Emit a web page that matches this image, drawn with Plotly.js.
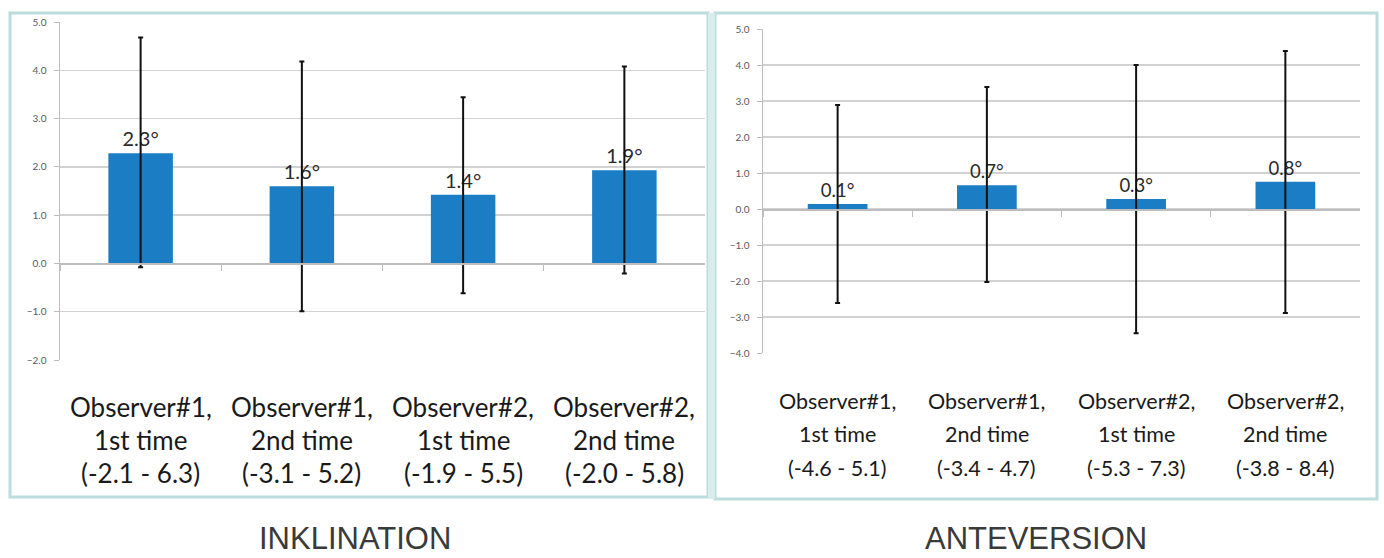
<!DOCTYPE html>
<html>
<head>
<meta charset="utf-8">
<script src="https://cdn.plot.ly/plotly-3.0.1.min.js"></script>
<style>html,body{margin:0;padding:0;background:#fff;}#chart{width:1384px;height:558px;}</style>
</head>
<body>
<div id="chart"></div>
<script>
// ---- data ----
const categories = ["Observer#1, 1st time", "Observer#1, 2nd time", "Observer#2, 1st time", "Observer#2, 2nd time"];
const labelNames = ["Observer#1,", "Observer#1,", "Observer#2,", "Observer#2,"];
const labelTimes = ["1st time", "2nd time", "1st time", "2nd time"];

// INKLINATION
const inkMean = [2.28, 1.6, 1.42, 1.93];
const inkUpper = [4.68, 4.18, 3.44, 4.08];
const inkLower = [-0.08, -0.99, -0.62, -0.21];
const inkRanges = ["(-2.1 - 6.3)", "(-3.1 - 5.2)", "(-1.9 - 5.5)", "(-2.0 - 5.8)"];

// ANTEVERSION
const antMean = [0.14, 0.66, 0.28, 0.76];
const antUpper = [2.89, 3.39, 4.0, 4.39];
const antLower = [-2.61, -2.03, -3.45, -2.89];
const antRanges = ["(-4.6 - 5.1)", "(-3.4 - 4.7)", "(-5.3 - 7.3)", "(-3.8 - 8.4)"];

const panelTitles = ["INKLINATION", "ANTEVERSION"];

// ---- build ----
const W = 1384, H = 558;
const BAR = '#1b7dc3';
const GRID = '#d2d2d2';
const AXIS = '#bdbdbd';
const FONT = 'Lato, "Open Sans", sans-serif';

function barTrace(mean, up, low, xa, ya, fsize) {
  return {
    type: 'bar', x: categories, y: mean, xaxis: xa, yaxis: ya,
    width: 0.4,
    marker: {color: BAR},
    texttemplate: '%{y:.1f}°', textposition: 'outside', cliponaxis: false,
    textfont: {family: FONT, size: fsize, color: '#2a2a2a'},
    error_y: {
      type: 'data', symmetric: false,
      array: up.map((u, i) => u - mean[i]),
      arrayminus: low.map((l, i) => mean[i] - l),
      color: '#111111', thickness: 2, width: 2.5
    },
    hoverinfo: 'skip'
  };
}

const yd1 = [1 - 360 / H, 1 - 22 / H];
const yd2 = [1 - 353 / H, 1 - 29 / H];
const r1 = [-2, 5], r2 = [-4, 5];
const zeroPos = (d, r) => d[0] + (0 - r[0]) / (r[1] - r[0]) * (d[1] - d[0]);

function xAxis(dom, ypos) {
  return {
    domain: dom, anchor: 'free', position: ypos, type: 'category',
    range: [-0.5, 3.5], showticklabels: false, ticks: 'outside', tickson: 'boundaries',
    ticklen: 6, tickwidth: 1.2, tickcolor: AXIS, showline: true, linecolor: AXIS, linewidth: 1.5,
    showgrid: false, zeroline: false, fixedrange: true
  };
}
function yAxis(dom, r, xa) {
  return {
    domain: dom, range: r, anchor: xa, dtick: 1, tickformat: '.1f',
    showgrid: true, gridcolor: GRID, gridwidth: 1.5, zeroline: false,
    showline: true, linecolor: AXIS, linewidth: 1.5,
    ticks: 'outside', ticklen: 5, tickcolor: AXIS, ticklabelstandoff: 5,
    tickfont: {family: FONT, size: 10, color: '#5a5a5a'}, fixedrange: true
  };
}

const annotations = [];
function catLabels(ranges, xa, ys, fsize) {
  categories.forEach((c, i) => {
    [labelNames[i], labelTimes[i], ranges[i]].forEach((t, k) => {
      annotations.push({
        xref: xa, yref: 'paper', x: c, y: 1 - ys[k] / H, yanchor: 'middle', xanchor: 'center',
        showarrow: false, text: t,
        font: {family: FONT, size: fsize, color: '#1a1a1a'}
      });
    });
  });
}
catLabels(inkRanges, 'x', [407, 440, 473], 26);
catLabels(antRanges, 'x2', [401, 434, 468], 21.5);

const TFONT = {family: '"Liberation Sans", Arial, sans-serif', size: 31, color: '#3a3a3a'};
annotations.push({xref: 'paper', yref: 'paper', x: 355 / W, y: 0, xanchor: 'center', yanchor: 'bottom',
  showarrow: false, text: panelTitles[0], font: TFONT});
annotations.push({xref: 'paper', yref: 'paper', x: 1036 / W, y: 0, xanchor: 'center', yanchor: 'bottom',
  showarrow: false, text: panelTitles[1], font: TFONT});

const BORDER = '#bcdcdd';
const shapes = [
  {type: 'rect', xref: 'paper', yref: 'paper', x0: 10 / W, x1: 708 / W, y0: 1 - 497 / H, y1: 1 - 13 / H,
   line: {color: BORDER, width: 3}, layer: 'below'},
  {type: 'rect', xref: 'paper', yref: 'paper', x0: 715 / W, x1: 1377 / W, y0: 1 - 499 / H, y1: 1 - 13 / H,
   line: {color: BORDER, width: 3}, layer: 'below'},
  {type: 'rect', xref: 'paper', yref: 'paper', x0: 708 / W, x1: 715 / W, y0: 1 - 499 / H, y1: 1 - 13 / H,
   fillcolor: '#d9ecec', line: {width: 0}, layer: 'below'}
];

const layout = {
  width: W, height: H, margin: {l: 0, r: 0, t: 0, b: 0},
  paper_bgcolor: '#ffffff', plot_bgcolor: 'rgba(0,0,0,0)',
  showlegend: false, bargap: 0.6,
  xaxis: xAxis([60 / W, 705 / W], zeroPos(yd1, r1)),
  yaxis: yAxis(yd1, r1, 'x'),
  xaxis2: xAxis([763 / W, 1360 / W], zeroPos(yd2, r2)),
  yaxis2: yAxis(yd2, r2, 'x2'),
  annotations: annotations,
  shapes: shapes
};

Plotly.newPlot('chart', [
  barTrace(inkMean, inkUpper, inkLower, 'x', 'y', 20),
  barTrace(antMean, antUpper, antLower, 'x2', 'y2', 18.5)
], layout, {displayModeBar: false, staticPlot: true});
</script>
</body>
</html>
